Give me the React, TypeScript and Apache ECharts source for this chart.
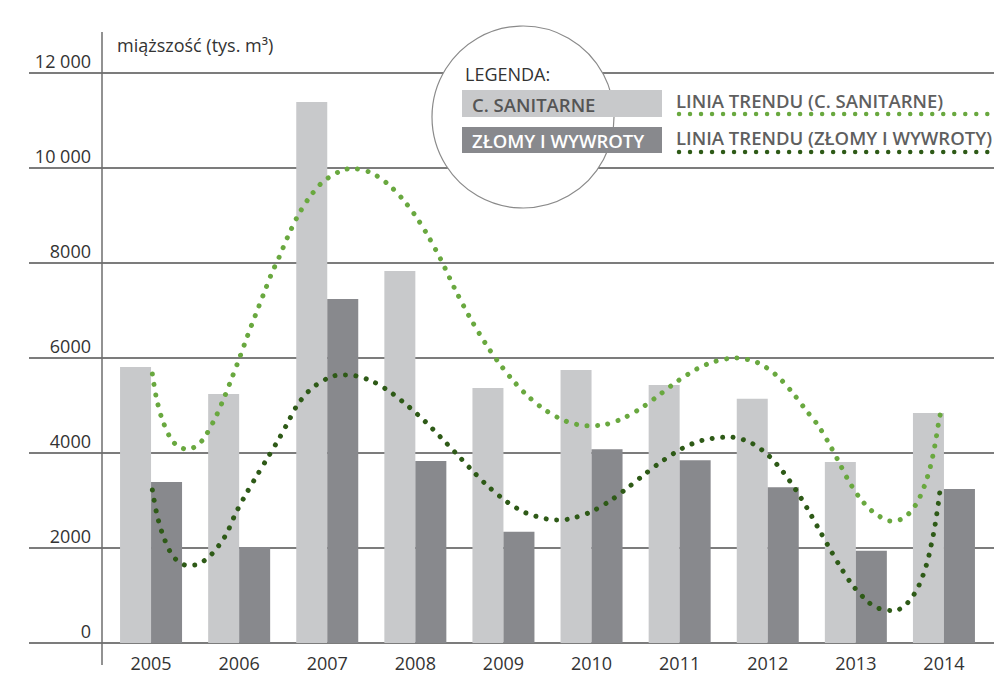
import React, { useEffect, useRef } from "react";
import * as echarts from "echarts";

const years = ["2005", "2006", "2007", "2008", "2009", "2010", "2011", "2012", "2013", "2014"];
const sanitarne = [5810, 5240, 11390, 7830, 5370, 5750, 5430, 5140, 3810, 4840];
const zlomy = [3390, 2020, 7240, 3830, 2340, 4080, 3850, 3280, 1940, 3240];
const yTickLabels = ["0", "2000", "4000", "6000", "8000", "10 000", "12 000"];

// trend lines: [category position, value]
const trendSanitarne = [
  [0.015, 5663], [0.057, 5194], [0.121, 4737], [0.224, 4301], [0.314, 4133], [0.42, 4078],
  [0.526, 4162], [0.61, 4337], [0.73, 4743], [0.825, 5143], [0.916, 5573], [1.007, 6015],
  [1.093, 6457], [1.184, 6899], [1.275, 7333], [1.366, 7768], [1.456, 8133], [1.552, 8554],
  [1.661, 8975], [1.793, 9368], [1.956, 9720], [2.171, 9952], [2.293, 9985], [2.497, 9901],
  [2.698, 9648], [2.864, 9326], [3.008, 8975], [3.136, 8596], [3.292, 8063], [3.451, 7446],
  [3.624, 6836], [3.817, 6246], [3.961, 5867], [4.117, 5509], [4.291, 5173], [4.484, 4891],
  [4.703, 4674], [4.946, 4575], [5.127, 4589], [5.358, 4730], [5.577, 4962], [5.778, 5236],
  [5.978, 5516], [6.194, 5768], [6.391, 5922], [6.637, 6000], [6.887, 5901], [7.098, 5636],
  [7.272, 5291], [7.427, 4920], [7.568, 4589], [7.688, 4225], [7.801, 3832], [7.911, 3438],
  [8.04, 3067], [8.187, 2773], [8.4, 2568], [8.521, 2611], [8.619, 2758], [8.695, 2954],
  [8.748, 3164], [8.793, 3383], [8.831, 3606], [8.862, 3838], [8.888, 4069], [8.91, 4295],
  [8.93, 4533], [8.952, 4764], [8.975, 4920],
];
const trendZlomy = [
  [0.015, 3221], [0.06, 2764], [0.125, 2322], [0.224, 1895], [0.306, 1720], [0.401, 1636],
  [0.519, 1648], [0.628, 1768], [0.719, 1931], [0.795, 2120], [0.863, 2322], [0.957, 2716],
  [1.07, 3109], [1.192, 3495], [1.317, 3880], [1.442, 4267], [1.544, 4611], [1.661, 5011],
  [1.824, 5362], [2.035, 5600], [2.157, 5642], [2.282, 5636], [2.52, 5501], [2.736, 5257],
  [2.929, 4968], [3.114, 4659], [3.288, 4331], [3.462, 3994], [3.632, 3657], [3.81, 3326],
  [4.037, 2975], [4.249, 2743], [4.492, 2611], [4.612, 2589], [4.745, 2611], [4.983, 2752],
  [5.202, 2983], [5.406, 3263], [5.607, 3558], [5.808, 3838], [6.024, 4091], [6.258, 4267],
  [6.569, 4337], [6.807, 4217], [7.011, 3943], [7.177, 3594], [7.325, 3206], [7.457, 2806],
  [7.579, 2400], [7.704, 1985], [7.832, 1579], [7.972, 1194], [8.15, 848], [8.255, 731],
  [8.441, 680], [8.547, 773], [8.63, 941], [8.698, 1143], [8.748, 1354], [8.789, 1573],
  [8.823, 1789], [8.85, 2021], [8.876, 2246], [8.899, 2478], [8.918, 2709], [8.936, 2933],
  [8.952, 3164], [8.97, 3320],
];

const FONT = "'Open Sans', 'Noto Sans', sans-serif";
const LIGHT = "#c8c9cb";
const DARK = "#88898d";
const GREEN = "#69a83f";
const DGREEN = "#2e5a17";
const GRID = "#7c7c7c";
const TEXT = "#333333";

export default function App() {
  const ref = useRef<HTMLDivElement>(null);
  useEffect(() => {
    if (!ref.current) return;
    const chart = echarts.init(ref.current, null, { renderer: "svg" });
    const dotted = (color: string) => ({
      color,
      width: 5,
      type: [0.01, 10.5],
      cap: "round",
    });
    chart.setOption({
      animation: false,
      backgroundColor: "#ffffff",
      textStyle: { fontFamily: FONT },
      grid: [
        { left: 29, right: 0, top: 73, bottom: 31 },
        { left: 107, right: 6, top: 73, bottom: 31 },
      ],
      xAxis: [
        { type: "value", gridIndex: 0, show: false, min: 0, max: 1 },
        {
          type: "category",
          gridIndex: 1,
          data: years,
          boundaryGap: true,
          axisLine: { show: false },
          axisTick: { show: false },
          axisLabel: { color: TEXT, fontSize: 18, margin: 11, fontFamily: FONT },
        },
        { type: "value", gridIndex: 1, min: -0.5, max: 9.5, show: false },
      ],
      yAxis: [
        {
          type: "value",
          gridIndex: 0,
          min: 0,
          max: 12000,
          interval: 2000,
          axisLine: { show: false },
          axisTick: { show: false },
          splitLine: { show: true, lineStyle: { color: GRID, width: 2 } },
          axisLabel: {
            inside: true,
            align: "right",
            margin: 62,
            verticalAlign: "bottom",
            lineHeight: 25,
            color: TEXT,
            fontSize: 18,
            fontFamily: FONT,
            formatter: (v: number) => yTickLabels[Math.round(v / 2000)],
          },
        },
        {
          type: "value",
          gridIndex: 1,
          min: 0,
          max: 12000,
          interval: 2000,
          show: false,
          splitLine: { show: false },
        },
      ],
      series: [
        {
          name: "C. SANITARNE",
          type: "bar",
          xAxisIndex: 1,
          yAxisIndex: 1,
          data: sanitarne,
          barWidth: 31,
          barGap: "0%",
          itemStyle: { color: LIGHT },
          z: 3,
        },
        {
          name: "ZŁOMY I WYWROTY",
          type: "bar",
          xAxisIndex: 1,
          yAxisIndex: 1,
          data: zlomy,
          barWidth: 31,
          barGap: "0%",
          itemStyle: { color: DARK },
          z: 3,
        },
        {
          name: "LINIA TRENDU (ZŁOMY I WYWROTY)",
          type: "line",
          xAxisIndex: 2,
          yAxisIndex: 1,
          data: trendZlomy,
          showSymbol: false,
          smooth: 0.3,
          lineStyle: dotted(DGREEN),
          z: 5,
        },
        {
          name: "LINIA TRENDU (C. SANITARNE)",
          type: "line",
          xAxisIndex: 2,
          yAxisIndex: 1,
          data: trendSanitarne,
          showSymbol: false,
          smooth: 0.3,
          lineStyle: dotted(GREEN),
          z: 5,
        },
      ],
      graphic: [
        {
          type: "line",
          z: 50,
          shape: { x1: 102, y1: 32, x2: 102, y2: 665 },
          style: { stroke: "#6e6e6e", lineWidth: 1.5 },
        },
        {
          type: "text",
          z: 50,
          x: 117,
          y: 45,
          style: {
            text: "miąższość (tys. m³)",
            fill: TEXT,
            font: `18px ${FONT}`,
            verticalAlign: "middle",
          },
        },
        {
          type: "circle",
          z: 60,
          shape: { cx: 523, cy: 117, r: 91 },
          style: { fill: "#ffffff", stroke: "#8a8a8a", lineWidth: 1.2 },
        },
        {
          type: "text",
          z: 61,
          x: 465,
          y: 74,
          style: { text: "LEGENDA:", fill: TEXT, font: `18px ${FONT}`, verticalAlign: "middle" },
        },
        {
          type: "rect",
          z: 61,
          shape: { x: 462, y: 90, width: 200, height: 27 },
          style: { fill: LIGHT },
        },
        {
          type: "text",
          z: 62,
          x: 472,
          y: 104,
          style: {
            text: "C. SANITARNE",
            fill: "#555555",
            font: `600 18.5px ${FONT}`,
            verticalAlign: "middle",
          },
        },
        {
          type: "rect",
          z: 61,
          shape: { x: 462, y: 127, width: 200, height: 26 },
          style: { fill: DARK },
        },
        {
          type: "text",
          z: 62,
          x: 472,
          y: 140,
          style: {
            text: "ZŁOMY I WYWROTY",
            fill: "#ffffff",
            font: `600 18.5px ${FONT}`,
            verticalAlign: "middle",
          },
        },
        {
          type: "text",
          z: 61,
          x: 676,
          y: 100,
          style: {
            text: "LINIA TRENDU (C. SANITARNE)",
            fill: "#5f5f5f",
            font: `600 18.5px ${FONT}`,
            verticalAlign: "middle",
          },
        },
        {
          type: "line",
          z: 61,
          shape: { x1: 679, y1: 114, x2: 994, y2: 114 },
          style: { stroke: GREEN, lineWidth: 4.5, lineDash: [0.01, 11], lineCap: "round" },
        },
        {
          type: "text",
          z: 61,
          x: 676,
          y: 137,
          style: {
            text: "LINIA TRENDU (ZŁOMY I WYWROTY)",
            fill: "#5f5f5f",
            font: `600 18.5px ${FONT}`,
            verticalAlign: "middle",
          },
        },
        {
          type: "line",
          z: 61,
          shape: { x1: 679, y1: 152, x2: 994, y2: 152 },
          style: { stroke: DGREEN, lineWidth: 4.5, lineDash: [0.01, 11], lineCap: "round" },
        },
      ],
    });
    return () => chart.dispose();
  }, []);
  return <div ref={ref} style={{ width: 994, height: 674, position: "fixed", left: 0, top: 0 }} />;
}
